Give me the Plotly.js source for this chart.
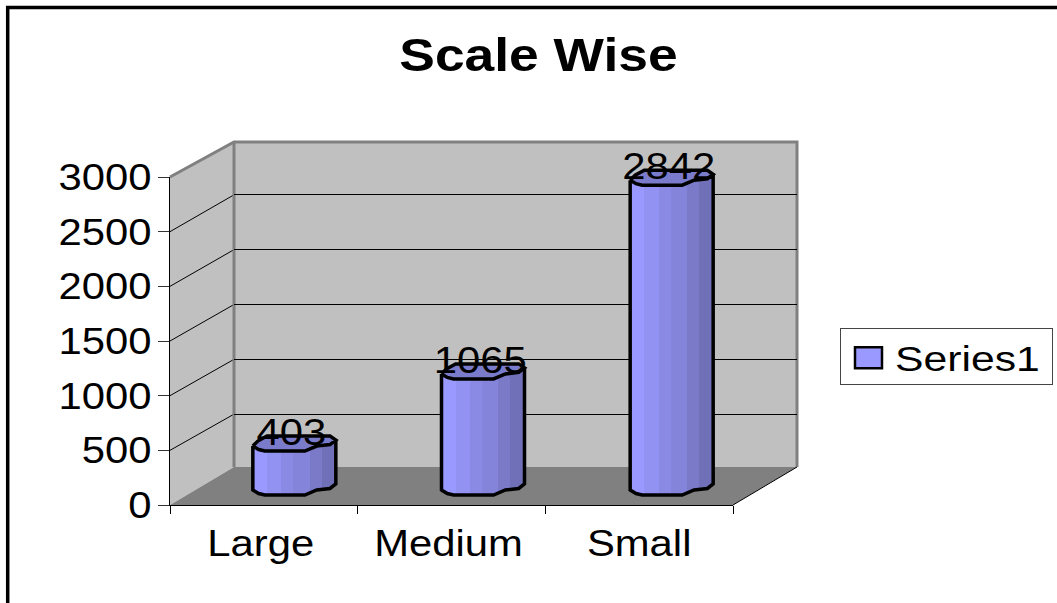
<!DOCTYPE html>
<html>
<head>
<meta charset="utf-8">
<script src="https://cdn.plot.ly/plotly-3.0.1.min.js"></script>
<style>html,body{margin:0;padding:0;background:#fff;overflow:hidden}</style>
</head>
<body>
<div id="chart" style="width:1057px;height:603px"></div>
<script>
const titleText = "Scale Wise";
const seriesName = "Series1";
const categories = ["Large", "Medium", "Small"];
const values = [403, 1065, 2842];
const yTicks = [0, 500, 1000, 1500, 2000, 2500, 3000];

const W = 1057, H = 603;
const px = v => v / W, py = v => 1 - v / H;
const FONT = '"Liberation Sans", Arial, sans-serif';
const LABEL_SIZE = 37, LABEL_STRETCH = 1.13;

// plane geometry (pixels)
const front = {x0: 170, x1: 733, y0: 505, y1: 177};
const wall = {x0: 234, x1: 797, y0: 467, y1: 142};
const wallGrid = {y0: 469, y1: 140};
const bars = {x0: 200, x1: 766, y0: 495, unitPx: 327 / 3000, lo: -200, hi: 3200};
const pxToUnit = p => p / bars.unitPx;
const barWidthCat = 83 / 188.67;

// octagon-like column profile: (fraction across column, rise in px)
const edgeU = [0, 0.07, 0.145, 0.627, 0.77, 0.93, 1];
const edgeFront = [5, 1.5, 0, 0, 5, 6.5, 11];
const backU = [0, 0.06, 0.17, 0.93, 1];
const backRise = [5, 10, 15, 15, 11];
const interp = (xs, ys, u) => {
  for (let i = 1; i < xs.length; i++) if (u <= xs[i]) {
    const t = (u - xs[i - 1]) / (xs[i] - xs[i - 1]);
    return ys[i - 1] + t * (ys[i] - ys[i - 1]);
  }
  return ys[ys.length - 1];
};
const bandEnd = [0.18, 0.33, 0.48, 0.68, 0.82, 1.01];
const bandColor = ['#9999ff', '#9292f2', '#8a8ae4', '#8484da', '#7a7ac9', '#7070b9'];
const colorAt = u => bandColor[bandEnd.findIndex(e => u <= e)];

const traces = [];
// invisible trace that carries the front category axis
traces.push({type: 'scatter', mode: 'markers', x: categories, y: values, xaxis: 'x', yaxis: 'y',
  marker: {opacity: 0}, showlegend: false, hoverinfo: 'skip'});
// back wall axes gridlines
traces.push({type: 'scatter', mode: 'markers', x: [0], y: [0], xaxis: 'x2', yaxis: 'y2',
  marker: {opacity: 0}, showlegend: false, hoverinfo: 'skip'});

// column bodies, as narrow shaded vertical slices
const sliceCount = 41;
for (let s = 0; s < sliceCount; s++) {
  const u0 = s / sliceCount, u1 = (s + 1) / sliceCount, um = (u0 + u1) / 2;
  const rise = pxToUnit(interp(edgeU, edgeFront, um));
  traces.push({
    type: 'bar', xaxis: 'x3', yaxis: 'y3',
    x: [0, 1, 2],
    y: values.map(v => v),
    base: values.map(() => rise),
    offset: -barWidthCat / 2 + u0 * barWidthCat,
    width: barWidthCat / sliceCount * 1.25,
    marker: {color: colorAt(um), line: {width: 0}},
    name: seriesName,
    showlegend: s === 0,
    hoverinfo: 'skip'
  });
}
// caps and outlines
values.forEach((v, i) => {
  const xOf = u => i - barWidthCat / 2 + u * barWidthCat;
  const capX = [], capY = [];
  edgeU.forEach((u, k) => { capX.push(xOf(u)); capY.push(v + pxToUnit(edgeFront[k])); });
  for (let k = backU.length - 1; k >= 0; k--) { capX.push(xOf(backU[k])); capY.push(v + pxToUnit(backRise[k])); }
  capX.push(capX[0]); capY.push(capY[0]);
  traces.push({type: 'scatter', mode: 'lines', x: capX, y: capY, xaxis: 'x3', yaxis: 'y3', fill: 'toself',
    fillcolor: '#7b7bcb', line: {color: '#000', width: 3.5}, showlegend: false, hoverinfo: 'skip'});
  const bx = [], by = [];
  edgeU.forEach((u, k) => { bx.push(xOf(u)); by.push(pxToUnit(edgeFront[k])); });
  const ox = [xOf(0)].concat(bx, [xOf(1), xOf(1)]);
  const oy = [v + pxToUnit(edgeFront[0])].concat(by, [v + pxToUnit(edgeFront[edgeFront.length - 1])]);
  oy.push(oy[oy.length - 1]);
  traces.push({type: 'scatter', mode: 'lines', x: ox, y: oy, xaxis: 'x3', yaxis: 'y3',
    line: {color: '#000', width: 3.5}, showlegend: false, hoverinfo: 'skip'});
});
// data labels
traces.push({type: 'scatter', mode: 'text', x: [0, 1, 2].map(i => i - 0.015),
  y: values.map(v => v + pxToUnit(15)), xaxis: 'x3', yaxis: 'y3',
  text: values.map(String), textposition: 'middle center',
  textfont: {family: FONT, size: LABEL_SIZE, color: '#000'}, cliponaxis: false,
  showlegend: false, hoverinfo: 'skip'});

// frame shapes
const poly = pts => 'M' + pts.map(p => px(p[0]) + ',' + py(p[1])).join('L') + 'Z';
const openPath = pts => 'M' + pts.map(p => px(p[0]) + ',' + py(p[1])).join('L');
const paperShape = (path, fill, lineColor, lineWidth) => ({type: 'path', xref: 'paper', yref: 'paper', layer: 'below',
  path, fillcolor: fill, line: {color: lineColor, width: lineWidth}});
const shapes = [
  paperShape(poly([[wall.x0, wall.y1], [wall.x1, wall.y1], [wall.x1, wall.y0], [wall.x0, wall.y0]]), '#c0c0c0', 'rgba(0,0,0,0)', 0),
  paperShape(poly([[front.x0, front.y1], [wall.x0, wall.y1], [wall.x0, wall.y0], [front.x0, front.y0]]), '#c0c0c0', 'rgba(0,0,0,0)', 0),
  paperShape(poly([[front.x0, front.y0], [front.x1, front.y0], [wall.x1, wall.y0], [wall.x0, wall.y0]]), '#808080', 'rgba(0,0,0,0)', 0)
];
yTicks.slice(1, -1).forEach(t => {
  const f = t / 3000;
  const a = [front.x0, front.y0 + f * (front.y1 - front.y0)];
  const b = [wall.x0, wallGrid.y0 + f * (wallGrid.y1 - wallGrid.y0)];
  shapes.push(paperShape(openPath([a, b]), 'rgba(0,0,0,0)', '#000', 1));
});
shapes.push(paperShape(openPath([[front.x0, front.y1], [wall.x0, wall.y1], [wall.x1, wall.y1], [wall.x1, wall.y0]]), 'rgba(0,0,0,0)', '#808080', 3));
shapes.push(paperShape(openPath([[wall.x0, wall.y1], [wall.x0, wall.y0]]), 'rgba(0,0,0,0)', '#808080', 3));
shapes.push(paperShape(openPath([[front.x1, front.y0], [wall.x1, wall.y0]]), 'rgba(0,0,0,0)', '#000', 1));
shapes.push(paperShape(openPath([[7.7, H + 5], [7.7, 7.5], [W + 5, 7.5]]), 'rgba(0,0,0,0)', '#000', 3.5));

const layout = {
  width: W, height: H, autosize: false,
  margin: {l: 0, r: 0, t: 0, b: 0, pad: 0},
  paper_bgcolor: '#fff', plot_bgcolor: 'rgba(0,0,0,0)',
  barmode: 'overlay', bargap: 0,
  font: {family: FONT, color: '#000', size: 35},
  title: {text: titleText, font: {family: FONT, size: 46, weight: 700, color: '#000'},
    x: 538.5 / W, xref: 'paper', xanchor: 'center', y: py(55), yref: 'paper', yanchor: 'middle', automargin: false},
  xaxis: {type: 'category', categoryorder: 'array', categoryarray: categories,
    domain: [px(front.x0), px(front.x1)], anchor: 'y', range: [-0.5, 2.5], tickson: 'boundaries',
    ticks: 'outside', ticklen: 8, tickwidth: 1, tickcolor: '#000', showline: true, linecolor: '#000', linewidth: 1,
    showgrid: false, zeroline: false, tickfont: {family: FONT, size: LABEL_SIZE, color: '#000'}, ticklabelstandoff: 6, automargin: false},
  yaxis: {domain: [py(front.y0), py(front.y1)], anchor: 'x', range: [0, 3000], tickmode: 'array',
    tickvals: yTicks, ticktext: yTicks.map(String), ticks: 'outside', ticklen: 11, tickwidth: 1, tickcolor: '#333',
    showline: true, linecolor: '#000', linewidth: 1, showgrid: false, zeroline: false,
    tickfont: {family: FONT, size: LABEL_SIZE, color: '#000'}, ticklabelstandoff: -1, automargin: false},
  xaxis2: {domain: [px(wall.x0), px(wall.x1)], anchor: 'y2', range: [0, 1], visible: false, showgrid: false, zeroline: false},
  yaxis2: {domain: [py(wallGrid.y0), py(wallGrid.y1)], anchor: 'x2', range: [0, 3000], tickmode: 'array',
    tickvals: yTicks.slice(1, -1), showticklabels: false, ticks: '', showgrid: true, gridcolor: '#000', gridwidth: 1,
    zeroline: false, showline: false, automargin: false},
  xaxis3: {domain: [px(bars.x0), px(bars.x1)], anchor: 'y3', range: [-0.5, 2.5], visible: false, showgrid: false, zeroline: false},
  yaxis3: {domain: [py(bars.y0 + (0 - bars.lo) * bars.unitPx), py(bars.y0 - bars.hi * bars.unitPx)], anchor: 'x3',
    range: [bars.lo, bars.hi], visible: false, showgrid: false, zeroline: false},
  legend: {x: px(840), xanchor: 'left', y: py(327.5), yanchor: 'top', bgcolor: '#fff', bordercolor: '#444', borderwidth: 1,
    font: {family: FONT, size: 35, color: '#000'}, itemclick: false, itemdoubleclick: false,
    itemwidth: 77},
  shapes,
  showlegend: true,
  hovermode: false
};

const stretch = (sel, k) => document.querySelectorAll('#chart ' + sel).forEach(t => {
  const len = t.getComputedTextLength();
  if (len > 0) { t.setAttribute('textLength', len * k); t.setAttribute('lengthAdjust', 'spacingAndGlyphs'); }
});
Plotly.newPlot('chart', traces, layout, {displayModeBar: false, staticPlot: true}).then(gd => {
  stretch('.gtitle', 1.16);
  stretch('.xtick text', LABEL_STRETCH);
  stretch('.ytick text', LABEL_STRETCH);
  stretch('.textpoint text', LABEL_STRETCH);
  stretch('.legendtext', 1.22);
  document.querySelectorAll('#chart .xtick text').forEach((t, i) => { if (i < 2) t.setAttribute('dx', -3); });
  document.querySelectorAll('#chart .legendtext').forEach(t => { t.setAttribute('x', parseFloat(t.getAttribute('x')) - 33); });
  document.querySelectorAll('#chart .legendpoints path').forEach(p => {
    p.setAttribute('d', 'M-29.5,-10.5h27v21h-27z');
    p.style.stroke = '#000'; p.style.strokeWidth = '2.5px';
  });
  document.querySelectorAll('#chart .legend .bg').forEach(r => { r.setAttribute('height', 56); });
});
</script>
</body>
</html>
